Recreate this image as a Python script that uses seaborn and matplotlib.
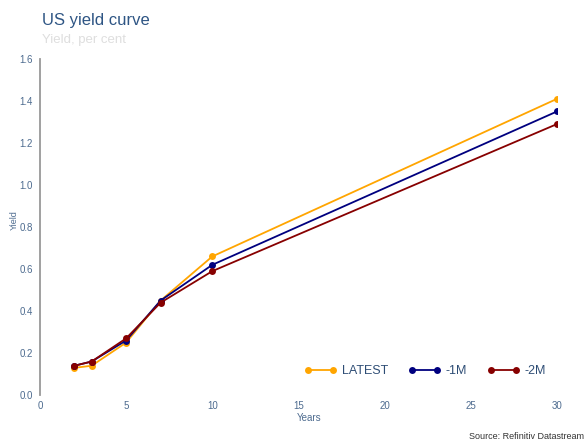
import numpy as np
import pandas as pd
import matplotlib
matplotlib.use("Agg")
import matplotlib.pyplot as plt
import seaborn as sns

# data
maturities = [2, 3, 5, 7, 10, 30]
latest = [0.13, 0.14, 0.25, 0.45, 0.66, 1.41]
minus_1m = [0.14, 0.16, 0.26, 0.45, 0.62, 1.35]
minus_2m = [0.14, 0.16, 0.27, 0.44, 0.59, 1.29]
series_names = ["LATEST", "-1M", "-2M"]
colors = ["#FFA500", "#00007F", "#870000"]

df = pd.DataFrame({
    "Years": maturities * 3,
    "Yield": latest + minus_1m + minus_2m,
    "series": [n for n in series_names for _ in maturities],
})

sns.set_style("white")
plt.rcParams['font.family'] = ['Liberation Sans', 'DejaVu Sans']

tick_col = "#4d6b8f"

fig = plt.figure(figsize=(5.87, 4.46), dpi=100)
ax = fig.add_axes([0.068, 0.114, 0.881, 0.754])

sns.lineplot(data=df, x="Years", y="Yield", hue="series", hue_order=series_names,
             palette=colors, marker="o", markersize=5, markeredgewidth=0,
             linewidth=1.3, ax=ax)

ax.set_xlim(0, 30)
ax.set_ylim(0, 1.6)
ax.set_xticks([0, 5, 10, 15, 20, 25, 30])
ax.set_yticks(np.arange(0, 1.61, 0.2))
ax.set_yticklabels([f"{v:.1f}" for v in np.arange(0, 1.61, 0.2)])
ax.tick_params(axis="both", length=0, labelsize=7, colors=tick_col, pad=5)
ax.tick_params(axis="x", pad=4)

for s in ["top", "right", "bottom"]:
    ax.spines[s].set_visible(False)
ax.spines["left"].set_color("#999999")
ax.spines["left"].set_linewidth(1.3)

ax.set_xlabel("Years", fontsize=7, color=tick_col, ha="left")
ax.xaxis.set_label_coords(0.497, -0.052)
ax.set_ylabel("Yield", fontsize=6.5, color=tick_col)
ax.yaxis.set_label_coords(-0.04, 0.52)

leg = ax.legend(loc="lower right", bbox_to_anchor=(1.0, 0.02), ncol=3, frameon=False,
                fontsize=9, numpoints=2, handlelength=2.6, columnspacing=1.6,
                handletextpad=0.4)
for t in leg.get_texts():
    t.set_color("#2e4d75")

fig.text(0.071, 0.955, "US yield curve", fontsize=12, color="#2e5584", ha="left", va="center")
fig.text(0.071, 0.91, "Yield, per cent", fontsize=9.5, color="#dedede", ha="left", va="center")
fig.text(0.995, 0.012, "Source: Refinitiv Datastream", fontsize=6.5, color="#333333",
         ha="right", va="bottom")

fig.savefig("out.png", dpi=100)
